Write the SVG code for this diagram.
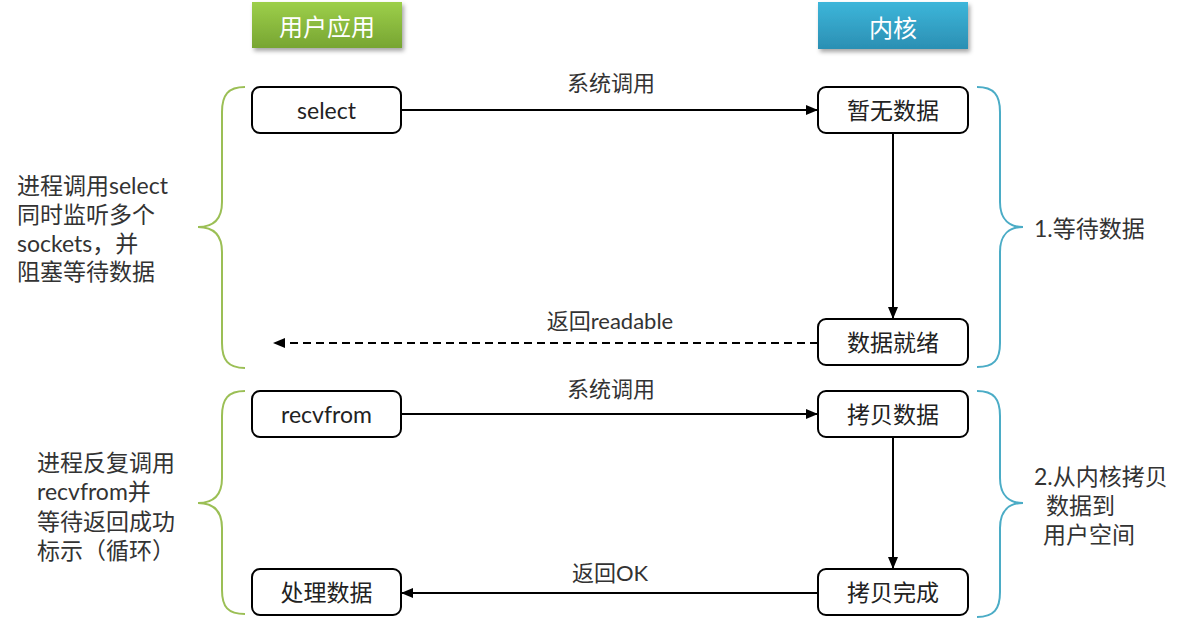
<svg xmlns="http://www.w3.org/2000/svg" width="1194" height="619" viewBox="0 0 1194 619">
<defs>
<linearGradient id="gGreen" x1="0" y1="0" x2="0" y2="1">
<stop offset="0" stop-color="#9dcf4a"/><stop offset="1" stop-color="#77a532"/>
</linearGradient>
<linearGradient id="gBlue" x1="0" y1="0" x2="0" y2="1">
<stop offset="0" stop-color="#3db6da"/><stop offset="1" stop-color="#2b8fb3"/>
</linearGradient>
<filter id="sh" x="-10%" y="-20%" width="130%" height="160%">
<feDropShadow dx="2" dy="3" stdDeviation="2" flood-color="#000" flood-opacity="0.35"/>
</filter>
<marker id="ah" viewBox="0 0 12 10" refX="12" refY="5" markerWidth="12" markerHeight="10" markerUnits="userSpaceOnUse" orient="auto">
<path d="M0,0 L12,5 L0,10 Z" fill="#000"/>
</marker>
</defs>
<style>
.hdr{font-family:"Noto Sans CJK SC",sans-serif;font-size:24px;fill:#fff;text-anchor:middle;dominant-baseline:central}
.box{fill:#fff;stroke:#000;stroke-width:2}
.nt{font-family:Lato,"Noto Sans CJK SC",sans-serif;font-size:23px;fill:#222;text-anchor:middle;dominant-baseline:central}
.lbl{font-family:Lato,"Noto Sans CJK SC",sans-serif;font-size:22px;fill:#333;text-anchor:middle;dominant-baseline:central}
.side{font-family:Lato,"Noto Sans CJK SC",sans-serif;font-size:23px;fill:#333;dominant-baseline:central}
.ln{fill:none;stroke:#000;stroke-width:2}
.bg{fill:none;stroke:#9bbf55;stroke-width:2}
.bb{fill:none;stroke:#4bacc6;stroke-width:2}
</style>
<g id="hdr-user"><rect x="252" y="2" width="150" height="46" fill="url(#gGreen)" filter="url(#sh)"/><text class="hdr" x="327" y="25">用户应用</text></g>
<g id="hdr-kernel"><rect x="818" y="2" width="150" height="47" fill="url(#gBlue)" filter="url(#sh)"/><text class="hdr" x="893" y="26">内核</text></g>

<g id="n-select"><rect class="box" x="252" y="87" width="149" height="46" rx="8"/><text class="nt" x="326.5" y="110">select</text></g>
<g id="n-nodata"><rect class="box" x="818" y="87" width="150" height="46" rx="8"/><text class="nt" x="893" y="110">暂无数据</text></g>
<g id="n-ready"><rect class="box" x="818" y="319" width="150" height="46" rx="8"/><text class="nt" x="893" y="342">数据就绪</text></g>
<g id="n-recvfrom"><rect class="box" x="252" y="391" width="149" height="46" rx="8"/><text class="nt" x="326.5" y="414">recvfrom</text></g>
<g id="n-copy"><rect class="box" x="818" y="391" width="150" height="46" rx="8"/><text class="nt" x="893" y="414">拷贝数据</text></g>
<g id="n-process"><rect class="box" x="252" y="569" width="149" height="46" rx="8"/><text class="nt" x="326.5" y="592">处理数据</text></g>
<g id="n-done"><rect class="box" x="818" y="569" width="150" height="46" rx="8"/><text class="nt" x="893" y="592">拷贝完成</text></g>

<g id="connectors">
<line class="ln" x1="401" y1="110" x2="818" y2="110" marker-end="url(#ah)"/>
<text class="lbl" x="611" y="82">系统调用</text>
<line class="ln" x1="893" y1="133" x2="893" y2="319" marker-end="url(#ah)"/>
<line class="ln" x1="818" y1="343" x2="273" y2="343" stroke-dasharray="8,5" marker-end="url(#ah)"/>
<text class="lbl" x="610" y="320">返回readable</text>
<line class="ln" x1="401" y1="414" x2="818" y2="414" marker-end="url(#ah)"/>
<text class="lbl" x="611" y="388">系统调用</text>
<line class="ln" x1="893" y1="437" x2="893" y2="569" marker-end="url(#ah)"/>
<line class="ln" x1="818" y1="593" x2="401" y2="593" marker-end="url(#ah)"/>
<text class="lbl" x="610" y="572">返回OK</text>
</g>

<g id="brace-l1"><path class="bg" d="M245,87 C228,87 222,95 222,112 L222,202 C222,220 212,227 198,227 C212,227 222,234 222,252 L222,343 C222,360 228,368 245,368"/></g>
<g id="brace-r1"><path class="bb" d="M977,87 C994,87 1000,95 1000,112 L1000,202 C1000,220 1010,227 1023,227 C1010,227 1000,234 1000,252 L1000,343 C1000,360 994,367 977,367"/></g>
<g id="brace-l2"><path class="bg" d="M245,391 C228,391 222,399 222,416 L222,478 C222,496 212,503 198,503 C212,503 222,510 222,528 L222,590 C222,607 228,614 245,614"/></g>
<g id="brace-r2"><path class="bb" d="M977,391 C994,391 1000,399 1000,416 L1000,478 C1000,496 1010,503 1023,503 C1010,503 1000,510 1000,528 L1000,592 C1000,609 994,617 977,617"/></g>

<g id="txt-l1">
<text class="side" x="17" y="185">进程调用select</text>
<text class="side" x="17" y="214">同时监听多个</text>
<text class="side" x="17" y="243">sockets，并</text>
<text class="side" x="17" y="271">阻塞等待数据</text>
</g>
<g id="txt-r1"><text class="side" x="1034" y="228">1.等待数据</text></g>
<g id="txt-l2">
<text class="side" x="37" y="462">进程反复调用</text>
<text class="side" x="37" y="491">recvfrom并</text>
<text class="side" x="37" y="521">等待返回成功</text>
<text class="side" x="37" y="550">标示（循环）</text>
</g>
<g id="txt-r2">
<text class="side" x="1034" y="476">2.从内核拷贝</text>
<text class="side" x="1046" y="505">数据到</text>
<text class="side" x="1043" y="534">用户空间</text>
</g>
</svg>
